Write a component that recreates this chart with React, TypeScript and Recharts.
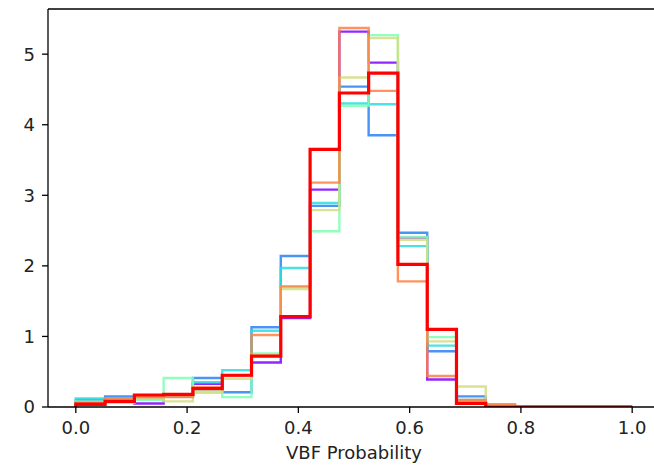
import React from 'react';
import { LineChart, Line, XAxis, YAxis, ReferenceLine, Label } from 'recharts';

// bin edges (19 equal bins over 0..1)
const binEdges = [
  0, 0.0526, 0.1053, 0.1579, 0.2105, 0.2632, 0.3158, 0.3684, 0.4211, 0.4737,
  0.5263, 0.5789, 0.6316, 0.6842, 0.7368, 0.7895, 0.8421, 0.8947, 0.9474, 1,
];

// density per bin for each sample
const purpleHist = [0.03, 0.08, 0.05, 0.15, 0.33, 0.45, 0.63, 1.26, 3.08, 5.32, 4.88, 2.4, 0.39, 0.08, 0.01, 0, 0, 0, 0];
const blueHist = [0.1, 0.15, 0.12, 0.17, 0.41, 0.21, 1.13, 2.14, 2.85, 4.54, 3.85, 2.47, 0.79, 0.15, 0.01, 0, 0, 0, 0];
const cyanHist = [0.12, 0.12, 0.13, 0.16, 0.35, 0.52, 1.08, 1.97, 2.89, 4.3, 4.29, 2.28, 0.87, 0.1, 0.02, 0, 0, 0, 0];
const greenHist = [0.08, 0.1, 0.1, 0.41, 0.22, 0.14, 0.76, 1.7, 2.49, 4.27, 5.27, 2.41, 0.99, 0.08, 0.01, 0, 0, 0, 0];
const oliveHist = [0.05, 0.06, 0.12, 0.08, 0.2, 0.4, 0.74, 1.67, 2.79, 4.67, 5.23, 2.37, 0.93, 0.29, 0.02, 0, 0, 0, 0];
const orangeHist = [0.06, 0.12, 0.14, 0.14, 0.28, 0.45, 1.02, 1.71, 3.18, 5.37, 4.48, 1.78, 0.44, 0.1, 0.04, 0, 0, 0, 0];
const redHist = [0.04, 0.08, 0.17, 0.18, 0.26, 0.45, 0.72, 1.28, 3.65, 4.45, 4.73, 2.02, 1.1, 0.05, 0, 0, 0, 0, 0];

const xTicks = [0, 0.2, 0.4, 0.6, 0.8, 1.0];
const yTicks = [0, 1, 2, 3, 4, 5];

const series = [
  { key: 'purple', values: purpleHist, color: '#8000ff', width: 2.4 },
  { key: 'blue', values: blueHist, color: '#2a80f6', width: 2.4 },
  { key: 'cyan', values: cyanHist, color: '#2adddd', width: 2.4 },
  { key: 'green', values: greenHist, color: '#80ffb4', width: 2.4 },
  { key: 'olive', values: oliveHist, color: '#d4dd80', width: 2.4 },
  { key: 'orange', values: orangeHist, color: '#ff8042', width: 2.4 },
  { key: 'red', values: redHist, color: '#ff0000', width: 3.2 },
];

const X_MIN = -0.05;
const X_MAX = 1.05;
const Y_MAX = 5.64;

// step outline: rise from 0 at the left edge, one row per bin, drop back to 0 at the right edge
const buildRows = () => {
  const rows: any[] = [];
  const first: any = { x: binEdges[0] };
  series.forEach(s => (first[s.key] = 0));
  rows.push(first);
  for (let i = 0; i < binEdges.length - 1; i++) {
    const row: any = { x: binEdges[i] };
    series.forEach(s => (row[s.key] = s.values[i]));
    rows.push(row);
  }
  const last: any = { x: binEdges[binEdges.length - 1] };
  series.forEach(s => (last[s.key] = 0));
  rows.push(last);
  return rows;
};

const font = { fontFamily: 'DejaVu Sans, sans-serif', fontSize: 18, fill: '#222' };

export default function App() {
  const rows = buildRows();
  return (
    <div style={{ position: 'fixed', left: 0, top: 0, width: 654, height: 465, overflow: 'hidden', background: '#fff' }}>
      <LineChart width={662} height={465} data={rows} margin={{ top: 9, right: 2, bottom: 0, left: 0 }}>
        <XAxis
          dataKey="x"
          type="number"
          domain={[X_MIN, X_MAX]}
          ticks={xTicks}
          tickFormatter={(v: number) => v.toFixed(1)}
          height={58}
          tickSize={6}
          tickMargin={8}
          tick={font}
          axisLine={{ stroke: '#000', strokeWidth: 1.3 }}
          tickLine={{ stroke: '#000', strokeWidth: 1.3 }}
          allowDataOverflow
        >
          <Label value="VBF Probability" position="insideBottom" offset={6} style={font} />
        </XAxis>
        <YAxis
          type="number"
          domain={[0, Y_MAX]}
          ticks={yTicks}
          width={48}
          tickSize={6}
          tickMargin={7}
          tick={font}
          axisLine={{ stroke: '#000', strokeWidth: 1.3 }}
          tickLine={{ stroke: '#000', strokeWidth: 1.3 }}
          allowDataOverflow
        />
        {series.map(s => (
          <Line
            key={s.key}
            dataKey={s.key}
            type="stepAfter"
            stroke={s.color}
            strokeWidth={s.width}
            strokeOpacity={s.key === 'red' ? 1 : 0.85}
            dot={false}
            activeDot={false}
            isAnimationActive={false}
          />
        ))}
        <ReferenceLine y={Y_MAX} stroke="#000" strokeWidth={1.3} />
        <ReferenceLine x={X_MAX} stroke="#000" strokeWidth={1.3} />
      </LineChart>
    </div>
  );
}
